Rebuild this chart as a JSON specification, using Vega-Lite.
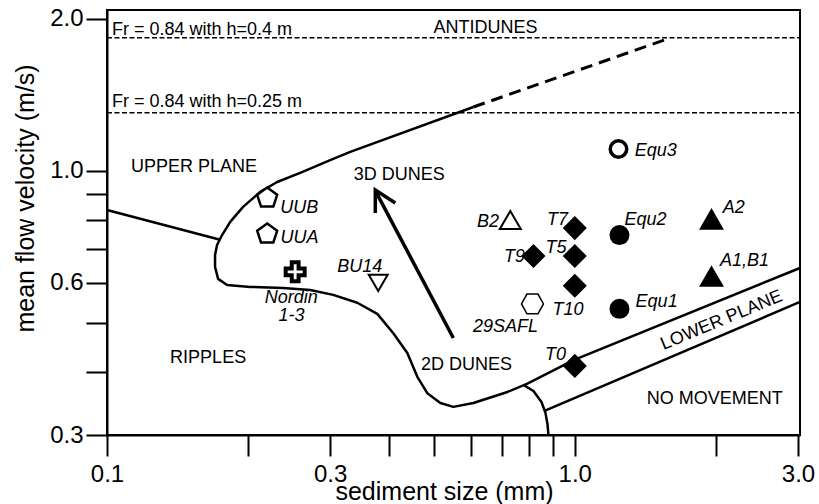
{
  "$schema": "https://vega.github.io/schema/vega-lite/v6.json",
  "width": 693,
  "height": 425,
  "autosize": {"type": "none"},
  "padding": {"left": 107, "top": 10, "right": 19, "bottom": 69},
  "background": "white",
  "config": {
    "font": "Liberation Sans",
    "view": {"stroke": "black", "strokeWidth": 2}
  },
  "datasets": {
    "froude": [
      {"h": "0.4 m", "d": 0.1, "v": 1.832},
      {"h": "0.4 m", "d": 3.03, "v": 1.832},
      {"h": "0.25 m", "d": 0.1, "v": 1.303},
      {"h": "0.25 m", "d": 3.03, "v": 1.303}
    ],
    "lines": [
      {"line": "main", "ord": 1, "d": 0.607, "v": 1.337},
      {"line": "main", "ord": 2, "d": 0.3311, "v": 1.09},
      {"line": "main", "ord": 3, "d": 0.3, "v": 1.05},
      {"line": "main", "ord": 4, "d": 0.2588, "v": 0.99},
      {"line": "main", "ord": 5, "d": 0.2311, "v": 0.95},
      {"line": "main", "ord": 6, "d": 0.2126, "v": 0.908},
      {"line": "main", "ord": 7, "d": 0.1954, "v": 0.848},
      {"line": "main", "ord": 8, "d": 0.1834, "v": 0.792},
      {"line": "main", "ord": 9, "d": 0.1762, "v": 0.746},
      {"line": "main", "ord": 10, "d": 0.1719, "v": 0.713},
      {"line": "main", "ord": 11, "d": 0.1702, "v": 0.681},
      {"line": "main", "ord": 12, "d": 0.1702, "v": 0.645},
      {"line": "main", "ord": 13, "d": 0.1728, "v": 0.611},
      {"line": "main", "ord": 14, "d": 0.1806, "v": 0.594},
      {"line": "main", "ord": 15, "d": 0.2023, "v": 0.589},
      {"line": "main", "ord": 16, "d": 0.2381, "v": 0.586},
      {"line": "main", "ord": 17, "d": 0.2719, "v": 0.581},
      {"line": "main", "ord": 18, "d": 0.3045, "v": 0.568},
      {"line": "main", "ord": 19, "d": 0.3428, "v": 0.548},
      {"line": "main", "ord": 20, "d": 0.3783, "v": 0.521},
      {"line": "main", "ord": 21, "d": 0.4093, "v": 0.477},
      {"line": "main", "ord": 22, "d": 0.4385, "v": 0.436},
      {"line": "main", "ord": 23, "d": 0.4607, "v": 0.391},
      {"line": "main", "ord": 24, "d": 0.4839, "v": 0.363},
      {"line": "main", "ord": 25, "d": 0.516, "v": 0.347},
      {"line": "main", "ord": 26, "d": 0.55, "v": 0.341},
      {"line": "main", "ord": 27, "d": 0.607, "v": 0.347},
      {"line": "main", "ord": 28, "d": 0.718, "v": 0.365},
      {"line": "main", "ord": 29, "d": 0.792, "v": 0.379},
      {"line": "main", "ord": 30, "d": 0.994, "v": 0.422},
      {"line": "main", "ord": 31, "d": 3.03, "v": 0.642},
      {"line": "ripple", "ord": 1, "d": 0.1, "v": 0.836},
      {"line": "ripple", "ord": 2, "d": 0.1745, "v": 0.73},
      {"line": "lp", "ord": 1, "d": 0.8614, "v": 0.3348},
      {"line": "lp", "ord": 2, "d": 3.03, "v": 0.55},
      {"line": "arc", "ord": 1, "d": 0.7767, "v": 0.377},
      {"line": "arc", "ord": 2, "d": 0.816, "v": 0.3666},
      {"line": "arc", "ord": 3, "d": 0.8488, "v": 0.3486},
      {"line": "arc", "ord": 4, "d": 0.8656, "v": 0.3318},
      {"line": "arc", "ord": 5, "d": 0.8742, "v": 0.3154},
      {"line": "arc", "ord": 6, "d": 0.8785, "v": 0.3},
      {"line": "ext", "ord": 1, "d": 0.607, "v": 1.337},
      {"line": "ext", "ord": 2, "d": 1.602, "v": 1.832},
      {"line": "shaft", "ord": 1, "d": 0.55, "v": 0.4667},
      {"line": "shaft", "ord": 2, "d": 0.3765, "v": 0.905},
      {"line": "head", "ord": 1, "d": 0.3746, "v": 0.825},
      {"line": "head", "ord": 2, "d": 0.3746, "v": 0.916},
      {"line": "head", "ord": 3, "d": 0.4134, "v": 0.8634}
    ],
    "points": [
      {"run": "UUB", "d": 0.22, "v": 0.887},
      {"run": "UUA", "d": 0.22, "v": 0.753},
      {"run": "Nordin 1-3", "d": 0.2525, "v": 0.631},
      {"run": "BU14", "d": 0.38, "v": 0.6},
      {"run": "B2", "d": 0.728, "v": 0.799},
      {"run": "T7", "d": 1.0, "v": 0.77},
      {"run": "T5", "d": 1.0, "v": 0.678},
      {"run": "T9", "d": 0.816, "v": 0.678},
      {"run": "T10", "d": 1.0, "v": 0.592},
      {"run": "T0", "d": 1.0, "v": 0.411},
      {"run": "29SAFL", "d": 0.812, "v": 0.545},
      {"run": "Equ1", "d": 1.246, "v": 0.533},
      {"run": "Equ2", "d": 1.246, "v": 0.746},
      {"run": "Equ3", "d": 1.24, "v": 1.104},
      {"run": "A2", "d": 1.96, "v": 0.803},
      {"run": "A1,B1", "d": 1.96, "v": 0.619}
    ],
    "pointLabels": [
      {"label": "UUB", "d": 0.2576, "v": 0.825},
      {"label": "UUA", "d": 0.2579, "v": 0.72},
      {"label": "Nordin", "d": 0.2476, "v": 0.5476},
      {"label": "1-3", "d": 0.248, "v": 0.504},
      {"label": "BU14", "d": 0.347, "v": 0.631},
      {"label": "B2", "d": 0.652, "v": 0.774},
      {"label": "T7", "d": 0.918, "v": 0.781},
      {"label": "T5", "d": 0.9115, "v": 0.688},
      {"label": "T9", "d": 0.743, "v": 0.66},
      {"label": "T10", "d": 0.967, "v": 0.518},
      {"label": "Equ2", "d": 1.417, "v": 0.781},
      {"label": "Equ3", "d": 1.489, "v": 1.07},
      {"label": "A2", "d": 2.186, "v": 0.825},
      {"label": "A1,B1", "d": 2.307, "v": 0.648},
      {"label": "Equ1", "d": 1.496, "v": 0.5385},
      {"label": "29SAFL", "d": 0.711, "v": 0.48},
      {"label": "T0", "d": 0.909, "v": 0.422}
    ],
    "regions": [
      {"label": "UPPER PLANE", "d": 0.1535, "v": 0.9945},
      {"label": "ANTIDUNES", "d": 0.644, "v": 1.869},
      {"label": "3D DUNES", "d": 0.4216, "v": 0.957},
      {"label": "RIPPLES", "d": 0.1645, "v": 0.4165},
      {"label": "2D DUNES", "d": 0.5866, "v": 0.4036},
      {"label": "NO MOVEMENT", "d": 1.991, "v": 0.3457}
    ],
    "rotated": [
      {"label": "LOWER PLANE", "d": 2.06, "v": 0.5055}
    ],
    "frLabels": [
      {"label": "Fr = 0.84 with h=0.4 m", "d": 0.1025, "v": 1.852},
      {"label": "Fr = 0.84 with h=0.25 m", "d": 0.1025, "v": 1.337}
    ]
  },
  "encoding": {
    "x": {
      "field": "d",
      "type": "quantitative",
      "scale": {"type": "log", "domain": [0.1, 3.03], "nice": false, "zero": false},
      "axis": {
        "title": "sediment size (mm)",
        "values": [0.1, 0.2, 0.3, 0.4, 0.5, 0.6, 0.7, 0.8, 0.9, 1, 2, 3],
        "labelExpr": "datum.value == 0.1 || datum.value == 0.3 || datum.value == 1 || datum.value == 3 ? format(datum.value, '.1f') : ''",
        "grid": false,
        "tickSize": 21,
        "tickWidth": 2,
        "tickColor": "black",
        "domainColor": "black",
        "domainWidth": 2,
        "labelFontSize": 24,
        "labelColor": "black",
        "labelPadding": 6,
        "labelBaseline": "top",
        "labelFlush": false,
        "labelOverlap": false,
        "labelBound": false,
        "titleFontSize": 25,
        "titleFontWeight": "normal",
        "titleColor": "black",
        "titleX": 337,
        "titleY": 64,
        "titleBaseline": "alphabetic",
        "titleAlign": "center"
      }
    },
    "y": {
      "field": "v",
      "type": "quantitative",
      "scale": {"type": "log", "domain": [0.3, 2.08], "nice": false, "zero": false},
      "axis": {
        "title": "mean flow velocity (m/s)",
        "values": [0.3, 0.4, 0.5, 0.6, 0.7, 0.8, 0.9, 1, 2],
        "labelExpr": "datum.value == 0.3 || datum.value == 0.6 || datum.value == 1 || datum.value == 2 ? format(datum.value, '.1f') : ''",
        "grid": false,
        "tickSize": 21,
        "tickWidth": 2,
        "tickColor": "black",
        "domainColor": "black",
        "domainWidth": 2,
        "labelFontSize": 24,
        "labelColor": "black",
        "labelPadding": 3,
        "labelFlush": false,
        "labelOverlap": false,
        "labelBound": false,
        "titleFontSize": 25,
        "titleFontWeight": "normal",
        "titleColor": "black",
        "titleAngle": 270,
        "titleX": -74,
        "titleY": 188,
        "titleBaseline": "alphabetic",
        "titleAlign": "center"
      }
    }
  },
  "layer": [
    {
      "data": {"name": "froude"},
      "mark": {"type": "line", "color": "black", "strokeWidth": 1.5, "strokeDash": [5, 2.5]},
      "encoding": {"detail": {"field": "h"}}
    },
    {
      "data": {"name": "lines"},
      "transform": [{"filter": {"field": "line", "oneOf": ["main", "ripple", "lp", "arc"]}}],
      "mark": {"type": "line", "color": "black", "strokeWidth": 2.5, "strokeJoin": "round"},
      "encoding": {"detail": {"field": "line"}, "order": {"field": "ord", "type": "quantitative"}}
    },
    {
      "data": {"name": "lines"},
      "transform": [{"filter": {"field": "line", "equal": "ext"}}],
      "mark": {"type": "line", "color": "black", "strokeWidth": 3, "strokeDash": [12, 7]},
      "encoding": {"order": {"field": "ord", "type": "quantitative"}}
    },
    {
      "data": {"name": "lines"},
      "transform": [{"filter": {"field": "line", "oneOf": ["shaft", "head"]}}],
      "mark": {"type": "line", "color": "black", "strokeWidth": 3.5, "strokeJoin": "miter"},
      "encoding": {"detail": {"field": "line"}, "order": {"field": "ord", "type": "quantitative"}}
    },
    {
      "data": {"name": "points"},
      "transform": [{"filter": {"field": "run", "oneOf": ["T0", "T5", "T7", "T9", "T10"]}}],
      "mark": {"type": "point", "shape": "diamond", "filled": true, "color": "black", "size": 580, "opacity": 1}
    },
    {
      "data": {"name": "points"},
      "transform": [{"filter": {"field": "run", "oneOf": ["Equ1", "Equ2"]}}],
      "mark": {"type": "point", "shape": "circle", "filled": true, "color": "black", "size": 400, "opacity": 1}
    },
    {
      "data": {"name": "points"},
      "transform": [{"filter": {"field": "run", "equal": "Equ3"}}],
      "mark": {"type": "point", "shape": "circle", "fill": "white", "stroke": "black", "strokeWidth": 3.5, "size": 272, "opacity": 1, "fillOpacity": 1}
    },
    {
      "data": {"name": "points"},
      "transform": [{"filter": {"field": "run", "oneOf": ["A2", "A1,B1"]}}],
      "mark": {"type": "point", "shape": "triangle-up", "filled": true, "color": "black", "size": 620, "opacity": 1}
    },
    {
      "data": {"name": "points"},
      "transform": [{"filter": {"field": "run", "equal": "B2"}}],
      "mark": {"type": "point", "shape": "triangle-up", "fill": "white", "stroke": "black", "strokeWidth": 2, "size": 440, "opacity": 1, "fillOpacity": 1}
    },
    {
      "data": {"name": "points"},
      "transform": [{"filter": {"field": "run", "equal": "BU14"}}],
      "mark": {"type": "point", "shape": "triangle-down", "fill": "white", "stroke": "black", "strokeWidth": 2, "size": 360, "opacity": 1, "fillOpacity": 1}
    },
    {
      "data": {"name": "points"},
      "transform": [{"filter": {"field": "run", "oneOf": ["UUA", "UUB"]}}],
      "mark": {"type": "point", "shape": "M0,-0.905L0.951,-0.214L0.588,0.905L-0.588,0.905L-0.951,-0.214Z", "fill": "white", "stroke": "black", "strokeWidth": 2.5, "size": 440, "opacity": 1, "fillOpacity": 1}
    },
    {
      "data": {"name": "points"},
      "transform": [{"filter": {"field": "run", "equal": "29SAFL"}}],
      "mark": {"type": "point", "shape": "M-1,0L-0.5,-0.9L0.5,-0.9L1,0L0.5,0.9L-0.5,0.9Z", "fill": "white", "stroke": "black", "strokeWidth": 1.5, "size": 484, "opacity": 1, "fillOpacity": 1}
    },
    {
      "data": {"name": "points"},
      "transform": [{"filter": {"field": "run", "equal": "Nordin 1-3"}}],
      "mark": {"type": "point", "shape": "M-0.36,-1L0.36,-1L0.36,-0.36L1,-0.36L1,0.36L0.36,0.36L0.36,1L-0.36,1L-0.36,0.36L-1,0.36L-1,-0.36L-0.36,-0.36Z", "fill": "white", "stroke": "black", "strokeWidth": 4, "size": 361, "opacity": 1, "fillOpacity": 1}
    },
    {
      "data": {"name": "regions"},
      "mark": {"type": "text", "fontSize": 18, "align": "center", "baseline": "alphabetic", "color": "black"},
      "encoding": {"text": {"field": "label"}}
    },
    {
      "data": {"name": "rotated"},
      "mark": {"type": "text", "fontSize": 18, "align": "center", "baseline": "middle", "angle": 337.5, "color": "black"},
      "encoding": {"text": {"field": "label"}}
    },
    {
      "data": {"name": "frLabels"},
      "mark": {"type": "text", "fontSize": 18, "align": "left", "baseline": "alphabetic", "color": "black"},
      "encoding": {"text": {"field": "label"}}
    },
    {
      "data": {"name": "pointLabels"},
      "mark": {"type": "text", "fontSize": 18, "fontStyle": "italic", "align": "center", "baseline": "alphabetic", "color": "black"},
      "encoding": {"text": {"field": "label"}}
    }
  ]
}
